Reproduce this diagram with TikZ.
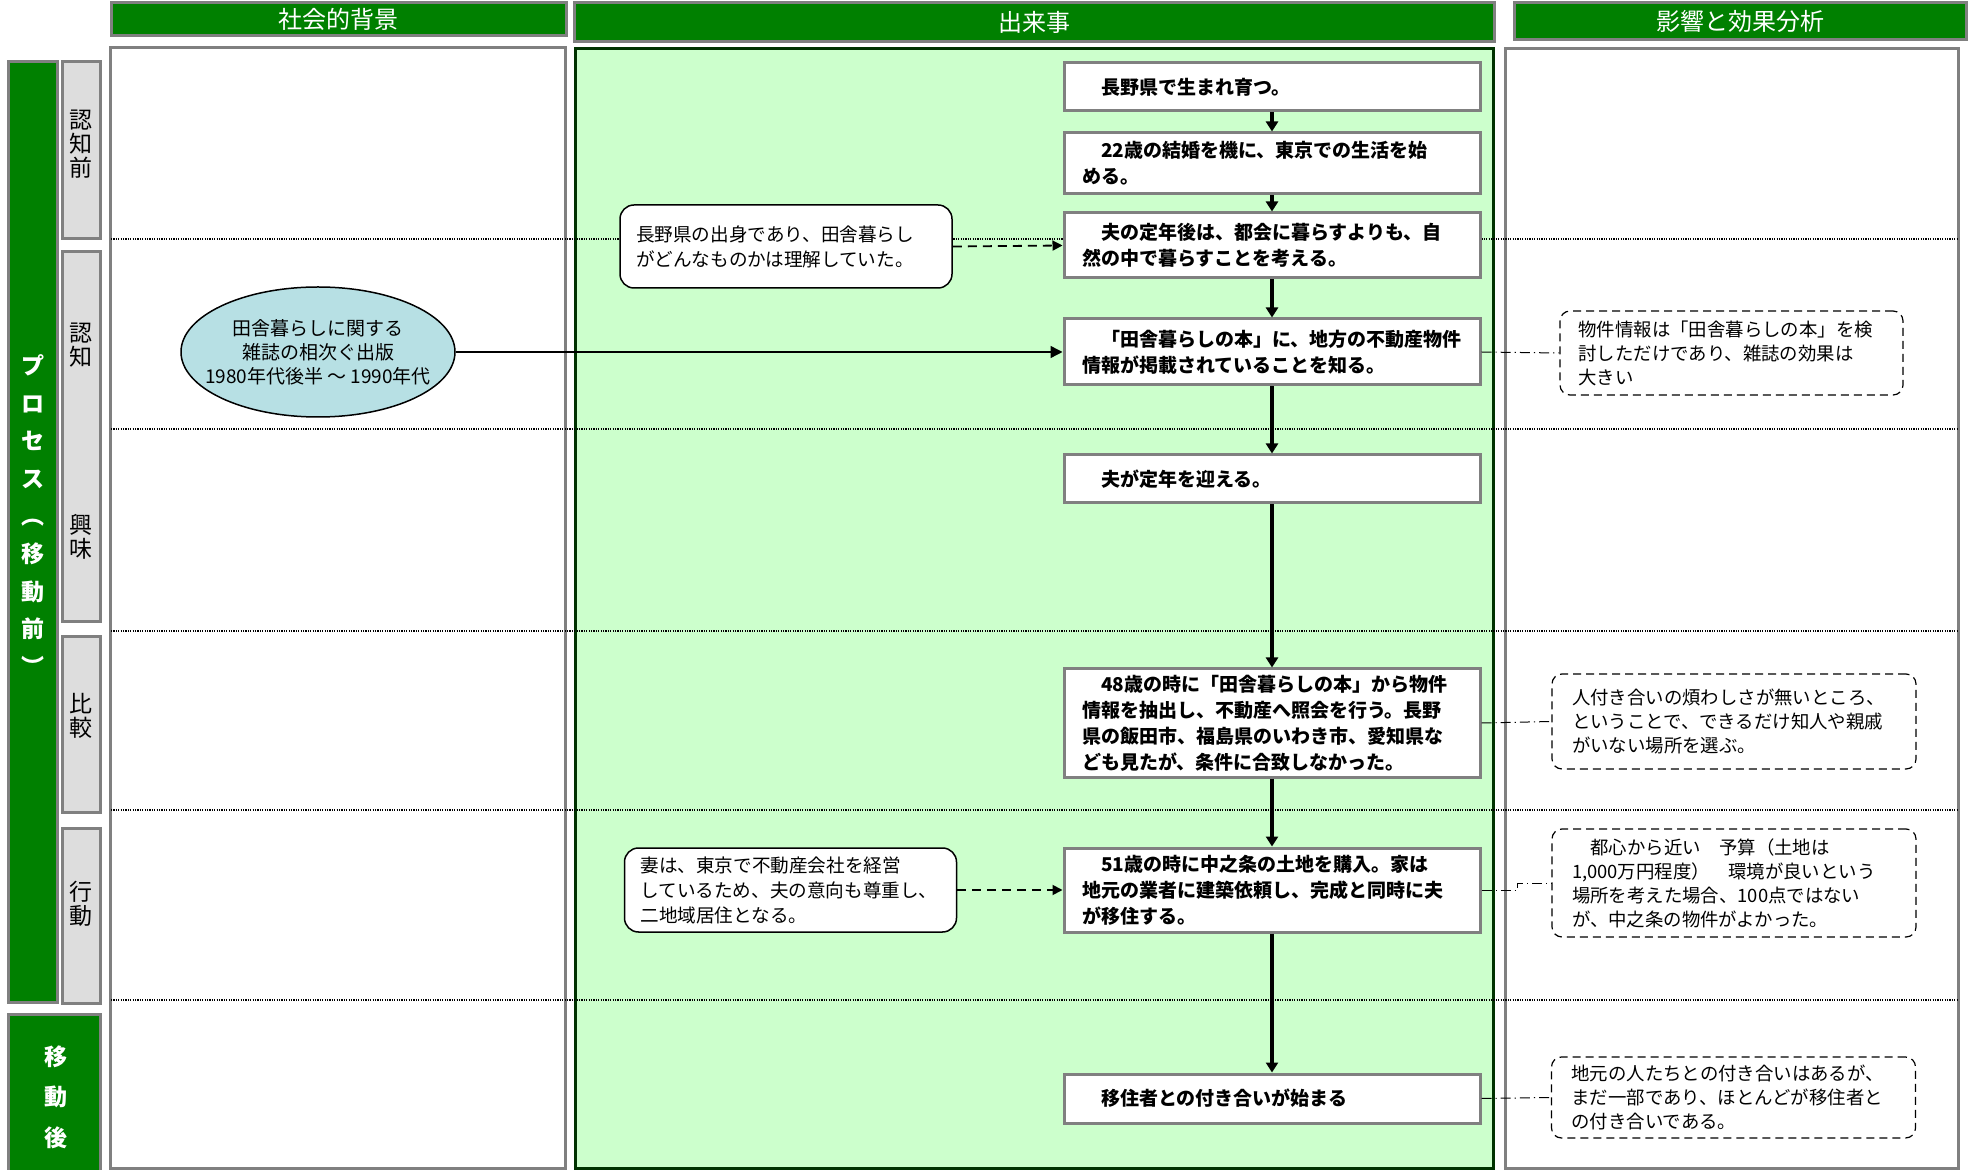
\documentclass[tikz,border=0pt]{standalone}
\usepackage{fontspec}
\setmainfont{Noto Sans CJK JP}
\usepackage{tikz}
\usetikzlibrary{arrows.meta,shapes.geometric}
\definecolor{hdrgreen}{RGB}{0,128,0}
\definecolor{evfill}{RGB}{204,255,204}
\definecolor{evline}{RGB}{0,51,0}
\definecolor{magblue}{RGB}{183,224,228}
\definecolor{frame}{RGB}{128,128,128}
\definecolor{stagegray}{RGB}{221,221,221}

\begin{document}
\begin{tikzpicture}[x=0.5pt,y=-0.5pt,
	hdr/.style={draw=frame,line width=1.5pt,fill=hdrgreen,text=white,inner sep=0pt,font=\fontsize{12}{14}\selectfont},
	col/.style={draw=frame,line width=1.5pt},
	stage/.style={draw=frame,line width=1.5pt,fill=stagegray},
	vlab/.style={align=center,inner sep=0pt,font=\fontsize{11.5}{12}\selectfont},
	side/.style={align=center,inner sep=0pt,text=white,font=\bfseries\fontsize{11.5}{18.8}\selectfont},
	ev/.style={draw=frame,line width=1.5pt,fill=white,minimum width=208pt,text width=190pt,inner xsep=9pt,inner ysep=0pt,align=left,font=\bfseries\fontsize{9.5}{13}\selectfont},
	note/.style={draw,line width=0.75pt,rounded corners=7pt,fill=white,minimum width=166pt,text width=150pt,inner sep=0pt,align=left,font=\fontsize{9.3}{12.5}\selectfont},
	eff/.style={draw,line width=0.6pt,dash pattern=on 4pt off 2.5pt,rounded corners=5pt,fill=white,minimum width=182pt,text width=162pt,inner sep=0pt,align=left,font=\fontsize{9.2}{12}\selectfont},
	flow/.style={line width=2pt,-{Triangle[width=6pt,length=5pt]}},
	link/.style={line width=0.9pt,dash pattern=on 4.5pt off 3pt,-{Triangle[width=5pt,length=5pt]}},
	tie/.style={line width=0.5pt,dash pattern=on 5pt off 2pt on 0.6pt off 2pt},
	row/.style={line width=0.6pt,black,dash pattern=on 0.6pt off 0.6pt}]
	\useasboundingbox (0,0) rectangle (1971,1170);
	% headers
	\node[hdr,minimum width=227.5pt,minimum height=16.5pt] (hs) at (338.5,19.5) {社会的背景};
	\node[hdr,minimum width=460pt,minimum height=19.5pt] (he) at (1034,22.5) {出来事};
	\node[hdr,minimum width=226pt,minimum height=18.5pt] (ha) at (1740,21.5) {影響と効果分析};
	% columns
	\draw[col] (110,48) rectangle (565,1168);
	\draw[line width=1.5pt,draw=evline,fill=evfill] (575,49) rectangle (1493,1168);
	\draw[col] (1505,49) rectangle (1958,1168);
	% process bar and stages
	\draw[col,fill=hdrgreen] (8,62) rectangle (57,1002);
	\node[side] at (32.5,515) {プ\\ロ\\セ\\ス\\︵\\移\\動\\前\\︶};
	\draw[col,fill=hdrgreen] (8,1014) rectangle (100,1185);
	\node[side,font=\bfseries\fontsize{11.5}{20.25}\selectfont] at (56,1097) {移\\動\\後};
	\draw[stage] (62,62) rectangle (100,239);
	\draw[stage] (62,252) rectangle (100,622);
	\draw[stage] (62,637) rectangle (100,812);
	\draw[stage] (62,828) rectangle (100,1003);
	\node[vlab] at (81,144) {認\\知\\前};
	\node[vlab] at (81,345) {認\\知};
	\node[vlab] at (81,537) {興\\味};
	\node[vlab] at (81,716) {比\\較};
	\node[vlab] at (81,904) {行\\動};
	\foreach \y in {239,429,631,810,1000}
		\draw[row] (111,\y) -- (1958,\y);
	% background
	\node[ellipse,draw,line width=0.75pt,fill=magblue,minimum width=137pt,minimum height=65pt] (mag) at (318,352) {};
	\node[align=center,inner sep=0pt,font=\fontsize{9.5}{12}\selectfont] at (mag) {田舎暮らしに関する\\雑誌の相次ぐ出版\\1980年代後半 ～ 1990年代};
	% events
	\node[ev,minimum height=24pt] (v1) at (1272,87) {　長野県で生まれ育つ。};
	\node[ev,minimum height=30.5pt] (v2) at (1272,163.5) {　22歳の結婚を機に、東京での生活を始\\める。};
	\node[ev,minimum height=32.5pt] (v3) at (1272,245.5) {　夫の定年後は、都会に暮らすよりも、自\\然の中で暮らすことを考える。};
	\node[ev,minimum height=33pt] (v4) at (1272,352) {　「田舎暮らしの本」に、地方の不動産物件\\情報が掲載されていることを知る。};
	\node[ev,minimum height=24pt] (v5) at (1272,479) {　夫が定年を迎える。};
	\node[ev,minimum height=54pt] (v6) at (1272,723) {　48歳の時に「田舎暮らしの本」から物件\\情報を抽出し、不動産へ照会を行う。長野\\県の飯田市、福島県のいわき市、愛知県な\\ども見たが、条件に合致しなかった。};
	\node[ev,minimum height=42pt] (v7) at (1272,890) {　51歳の時に中之条の土地を購入。家は\\地元の業者に建築依頼し、完成と同時に夫\\が移住する。};
	\node[ev,minimum height=24.5pt] (v8) at (1272,1098.5) {　移住者との付き合いが始まる};
	\node[note,minimum height=41.5pt] (n1) at (786,246.5) {長野県の出身であり、田舎暮らし\\がどんなものかは理解していた。};
	\node[note,minimum height=42pt] (n2) at (790.5,890) {妻は、東京で不動産会社を経営\\しているため、夫の意向も尊重し、\\二地域居住となる。};
	% effects
	\node[eff,minimum width=171.5pt,minimum height=42pt,text width=153pt] (f1) at (1731.5,353) {物件情報は「田舎暮らしの本」を検\\討しただけであり、雑誌の効果は\\大きい};
	\node[eff,minimum height=47.5pt] (f2) at (1734,721.5) {人付き合いの煩わしさが無いところ、\\ということで、できるだけ知人や親戚\\がいない場所を選ぶ。};
	\node[eff,minimum height=54pt] (f3) at (1734,883) {　都心から近い　予算（土地は\\1,000万円程度）　環境が良いという\\場所を考えた場合、100点ではない\\が、中之条の物件がよかった。};
	\node[eff,minimum height=40.5pt] (f4) at (1733.5,1097.5) {地元の人たちとの付き合いはあるが、\\まだ一部であり、ほとんどが移住者と\\の付き合いである。};
	% connectors
	\foreach \a/\b in {v1/v2,v2/v3,v3/v4,v4/v5,v5/v6,v6/v7,v7/v8}
		\draw[flow] (\a.south) -- (\b.north);
	\draw[line width=0.7pt,-{Triangle[width=6pt,length=6pt]}] (mag.east) -- (v4.west);
	\draw[link] (n1.east) -- (v3.west);
	\draw[link] (n2.east) -- (v7.west);
	\draw[tie] (v4.east) -- (f1.west);
	\draw[tie] (v6.east) -- (f2.west);
	\draw[tie] (v7.east) -- ++(36,0) |- (f3.west);
	\draw[tie] (v8.east) -- (f4.west);
\end{tikzpicture}
\end{document}
